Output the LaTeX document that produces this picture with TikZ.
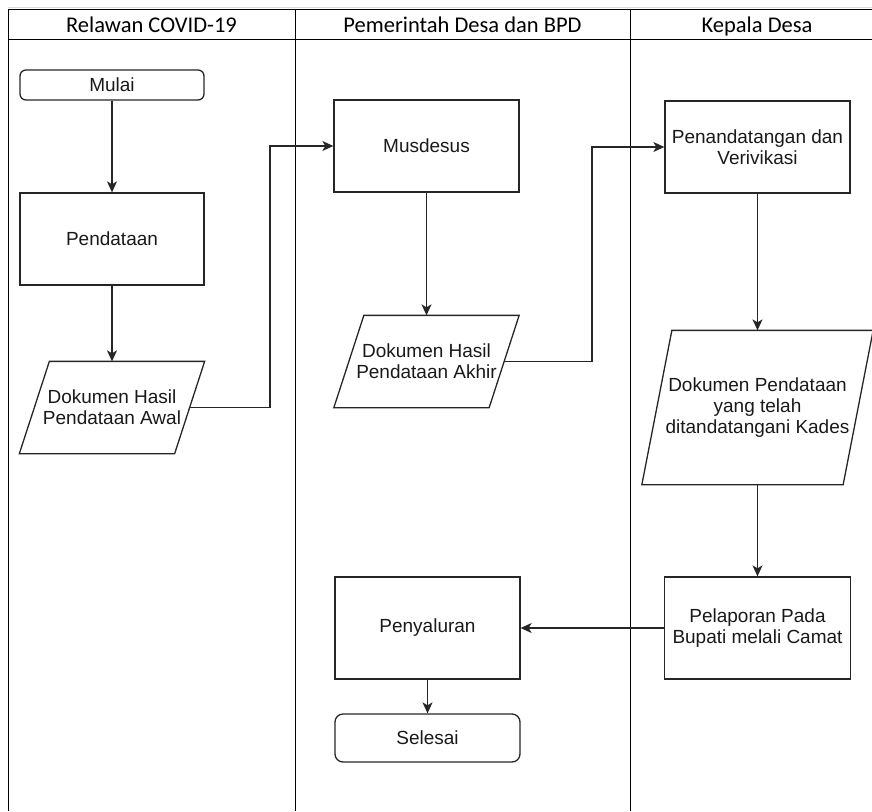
\documentclass[tikz,border=0pt]{standalone}
\usepackage{fontspec}
\setmainfont{Liberation Sans}
\newfontfamily\headfont{Carlito}
\usetikzlibrary{arrows.meta}

\tikzset{
  lane/.style={draw=black, line width=0.8pt},
  head/.style={anchor=base, inner sep=0pt, font=\headfont\fontsize{22.5}{26}\selectfont},
  edge/.style={draw=black!85, line width=1.3pt},
  proc/.style={edge, minimum width=185pt, minimum height=92pt,
    align=center, inner sep=2pt, text=black!90, font=\fontsize{19}{21}\selectfont},
  term/.style={proc, rounded corners=6pt, minimum height=30pt},
  % body of a data block, the slanted outline is drawn afterwards
  data/.style={proc, draw=none, minimum width=154pt, minimum height=91pt, inner sep=0pt},
  flow/.style={edge, -{Stealth[length=11pt,width=10pt,inset=3pt]}},
}

\begin{document}
\begin{tikzpicture}[x=1pt,y=-1pt]
      \useasboundingbox (0,0) rectangle (872,811);

      % Swimlane table
      \draw[yellow, line width=1pt] (8,7.5) -- (872,7.5);
      \draw[lane] (8,9) -- (884,9);
      \draw[lane] (8,39) -- (884,39);
      \foreach \x in {8, 295, 630} {
          \draw[lane] (\x,9) -- (\x,811);
      }
      \foreach \x/\t [count=\i] in {151.5/Relawan COVID-19, 462.5/Pemerintah Desa dan BPD, 757/Kepala Desa} {
          \node[head] (lane\i) at (\x,32) {\t};
      }

      % Relawan COVID-19
      \node[term, minimum width=184pt] (mulai) at (112,85) {Mulai};
      \node[proc, minimum width=184pt] (pendataan) at (112,239) {Pendataan};
      \node[data] (awal) at (112,407.5) {Dokumen Hasil\\Pendataan Awal};

      % Pemerintah Desa dan BPD
      \node[proc] (musdesus) at (426.5,146) {Musdesus};
      \node[data] (akhir) at (426.5,361.5) {Dokumen Hasil\\Pendataan Akhir};
      \node[proc, minimum height=102pt] (salur) at (427.5,628) {Penyaluran};
      \node[term, rounded corners=8pt, minimum height=48pt] (selesai) at (427.5,738) {Selesai};

      % Kepala Desa
      \node[proc] (ttd) at (757.5,147) {Penandatangan dan\\Verivikasi};
      \node[data, minimum width=200pt, minimum height=153pt] (kades) at (757.5,407.5)
            {Dokumen Pendataan\\yang telah\\ditandatangani Kades};
      \node[proc, minimum width=186pt, minimum height=102pt] (lapor) at (757.5,628)
            {Pelaporan Pada\\Bupati melali Camat};

      % Slanted outlines of the data blocks
      \foreach \n in {awal, akhir, kades} {
          \draw[edge] ([xshift=15pt]\n.north west) -- ([xshift=15pt]\n.north east)
              -- ([xshift=-15pt]\n.south east) -- ([xshift=-15pt]\n.south west) -- cycle;
      }

      % Connectors
      \coordinate (bendA) at (270,146);
      \coordinate (bendB) at (592,147);
      \draw[flow] (mulai) -- (pendataan);
      \draw[flow] (pendataan) -- (awal);
      \draw[flow] (awal.east) -| (bendA) -- (musdesus);
      \draw[flow] (musdesus) -- (akhir);
      \draw[flow] (akhir.east) -| (bendB) -- (ttd);
      \draw[flow] (ttd) -- (kades);
      \draw[flow] (kades) -- (lapor);
      \draw[flow] (lapor) -- (salur);
      \draw[flow] (salur) -- (selesai);
\end{tikzpicture}
\end{document}
